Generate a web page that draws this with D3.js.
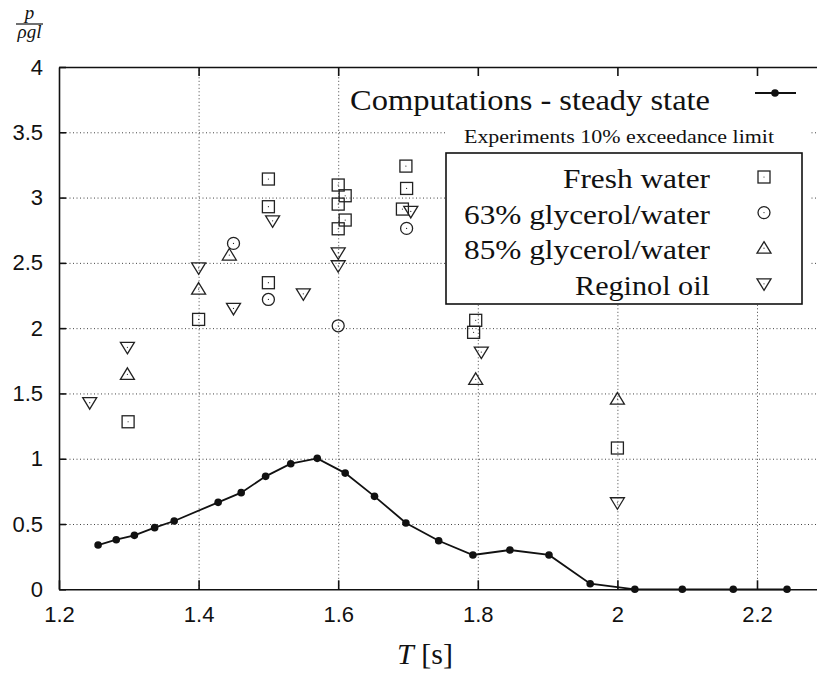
<!DOCTYPE html>
<html>
<head>
<meta charset="utf-8">
<script src="https://cdn.jsdelivr.net/npm/d3@7/dist/d3.min.js"></script>
<style>
    body { margin: 0; background: #ffffff; }
    svg { display: block; }
</style>
</head>
<body>
<svg id="chart" width="817" height="677"></svg>
<script>
// computed pressure, steady state
var computedT = [1.256, 1.282, 1.308, 1.337, 1.365, 1.428, 1.461, 1.496, 1.532, 1.570,
    1.610, 1.652, 1.697, 1.744, 1.793, 1.846, 1.902, 1.961, 2.025, 2.093, 2.166, 2.243];
var computedP = [0.339, 0.380, 0.413, 0.472, 0.523, 0.666, 0.740, 0.865, 0.962, 1.003,
    0.890, 0.712, 0.508, 0.372, 0.263, 0.301, 0.263, 0.043, 0, 0, 0, 0];

// experiments, 10% exceedance limit
var freshWaterT = [1.299, 1.400, 1.500, 1.500, 1.500, 1.600, 1.610, 1.600, 1.610, 1.600,
    1.697, 1.698, 1.692, 1.797, 1.794, 2.000];
var freshWaterP = [1.283, 2.067, 3.142, 2.930, 2.348, 3.096, 3.014, 2.950, 2.828, 2.761,
    3.241, 3.070, 2.912, 2.060, 1.968, 1.082];
var glycerol63T = [1.450, 1.500, 1.600, 1.698];
var glycerol63P = [2.649, 2.220, 2.018, 2.764];
var glycerol85T = [1.298, 1.400, 1.444, 1.797, 2.000];
var glycerol85P = [1.646, 2.299, 2.560, 1.608, 1.457];
var reginolT = [1.244, 1.298, 1.400, 1.450, 1.506, 1.550, 1.600, 1.600, 1.704, 1.805, 2.000];
var reginolP = [1.429, 1.853, 2.462, 2.151, 2.822, 2.263, 2.577, 2.478, 2.894, 1.817, 0.663];

var xTicks = [1.2, 1.4, 1.6, 1.8, 2.0, 2.2];
var yTicks = [0, 0.5, 1, 1.5, 2, 2.5, 3, 3.5, 4];
var seriesNames = ["Fresh water", "63% glycerol/water", "85% glycerol/water", "Reginol oil"];

var opts = {
    left: 59,
    top: 67,
    bottom: 589.3,
    right: 826.8,
    serif: "'Liberation Serif', 'DejaVu Serif', serif",
    sans: "'Liberation Sans', Arial, Helvetica, sans-serif"
};

var svg = d3.select('#chart');

var x = d3.scaleLinear().domain([1.2, 2.3]).range([opts.left, opts.right]);
var y = d3.scaleLinear().domain([0, 4]).range([opts.bottom, opts.top]);
var plotH = opts.bottom - opts.top;
var plotW = opts.right - opts.left;

function zip(xs, ys) {
    return xs.map(function(d, i) { return {t: d, p: ys[i]}; });
}

// marker shapes, gnuplot style
var symbols = {
    square: function(g) {
        g.append('rect').attr('x', -6).attr('y', -6).attr('width', 12).attr('height', 12);
    },
    circle: function(g) {
        g.append('circle').attr('r', 6);
    },
    up: function(g) {
        g.append('path').attr('d', 'M0,-6.5L7,5L-7,5Z');
    },
    down: function(g) {
        g.append('path').attr('d', 'M0,6.5L7,-5L-7,-5Z');
    }
};

function drawMarker(sel, kind) {
    sel.each(function() {
        var g = d3.select(this);
        symbols[kind](g);
        g.selectAll('rect, circle, path')
                .attr('fill', 'none')
                .attr('stroke', '#222')
                .attr('stroke-width', 1.3);
        g.append('circle').attr('r', 0.6).attr('fill', '#222');
    });
}

/** grid **/
var gridX = svg.append('g')
        .attr('class', 'grid-x')
        .attr('transform', 'translate(0,' + opts.bottom + ')')
        .call(d3.axisBottom(x).tickValues(xTicks.slice(1)).tickSize(-plotH).tickFormat(''));
var gridY = svg.append('g')
        .attr('class', 'grid-y')
        .attr('transform', 'translate(' + opts.left + ',0)')
        .call(d3.axisLeft(y).tickValues(yTicks.slice(1, -1)).tickSize(-plotW).tickFormat(''));
svg.selectAll('.grid-x .domain, .grid-y .domain').remove();
svg.selectAll('.grid-x line, .grid-y line')
        .attr('stroke', '#444')
        .attr('stroke-width', 1)
        .attr('stroke-dasharray', '1,2.5');

/** key background (covers grid) **/
svg.append('rect')
        .attr('x', 447).attr('y', opts.top + 1)
        .attr('width', 364).attr('height', 237)
        .attr('fill', '#ffffff');

/** axes **/
var axisBottom = svg.append('g')
        .attr('class', 'axis')
        .attr('transform', 'translate(0,' + opts.bottom + ')')
        .call(d3.axisBottom(x).tickValues(xTicks).tickSizeInner(-9).tickSizeOuter(0).tickPadding(17)
                .tickFormat(function(d) { return d3.format('~g')(d); }));
var axisLeft = svg.append('g')
        .attr('class', 'axis')
        .attr('transform', 'translate(' + opts.left + ',0)')
        .call(d3.axisLeft(y).tickValues(yTicks).tickSizeInner(-7).tickSizeOuter(0).tickPadding(16)
                .tickFormat(function(d) { return d3.format('~g')(d); }));
var axisTop = svg.append('g')
        .attr('class', 'axis')
        .attr('transform', 'translate(0,' + opts.top + ')')
        .call(d3.axisTop(x).tickValues(xTicks.slice(1)).tickSizeInner(-9).tickSizeOuter(0).tickFormat(''));
svg.selectAll('.axis .domain').attr('stroke', '#111').attr('stroke-width', 1.6);
svg.selectAll('.axis line').attr('stroke', '#111').attr('stroke-width', 1.6);
svg.selectAll('.axis text')
        .attr('font-family', opts.sans)
        .attr('font-size', '22px')
        .attr('fill', '#111');

/** key box **/
svg.append('rect')
        .attr('x', 446).attr('y', 153)
        .attr('width', 356).attr('height', 151)
        .attr('fill', 'none')
        .attr('stroke', '#111')
        .attr('stroke-width', 1.6);

/** computations line **/
var line = d3.line()
        .x(function(d) { return x(d.t); })
        .y(function(d) { return y(d.p); });
var computed = zip(computedT, computedP);
svg.append('path')
        .datum(computed)
        .attr('d', line)
        .attr('fill', 'none')
        .attr('stroke', '#111')
        .attr('stroke-width', 1.8);
svg.selectAll('.comp-dot').data(computed).enter()
        .append('circle')
        .attr('class', 'comp-dot')
        .attr('cx', function(d) { return x(d.t); })
        .attr('cy', function(d) { return y(d.p); })
        .attr('r', 3.8)
        .attr('fill', '#111');

/** experiments **/
var experiments = [
    {kind: 'square', data: zip(freshWaterT, freshWaterP)},
    {kind: 'circle', data: zip(glycerol63T, glycerol63P)},
    {kind: 'up', data: zip(glycerol85T, glycerol85P)},
    {kind: 'down', data: zip(reginolT, reginolP)}
];
experiments.forEach(function(s, k) {
    svg.selectAll('.pt-' + k).data(s.data).enter()
            .append('g')
            .attr('class', 'pt-' + k)
            .attr('transform', function(d) { return 'translate(' + x(d.t) + ',' + y(d.p) + ')'; })
            .call(drawMarker, s.kind);
});

/** key texts **/
function keyText(str, xx, yy, size, width) {
    var t = svg.append('text')
            .attr('x', xx).attr('y', yy)
            .attr('text-anchor', 'end')
            .attr('font-family', opts.serif)
            .attr('font-size', size + 'px')
            .attr('fill', '#111')
            .text(str);
    t.attr('textLength', width).attr('lengthAdjust', 'spacingAndGlyphs');
    return t;
}

keyText('Computations - steady state', 710, 110, 30, 360);
svg.append('line')
        .attr('x1', 755).attr('x2', 796)
        .attr('y1', 93).attr('y2', 93)
        .attr('stroke', '#111').attr('stroke-width', 1.8);
svg.append('circle')
        .attr('cx', 775).attr('cy', 93).attr('r', 3.8).attr('fill', '#111');

keyText('Experiments 10% exceedance limit', 774, 143, 18, 310);

var keyWidths = [147, 246, 246, 135];
seriesNames.forEach(function(name, k) {
    var base = 188 + k * 35.6;
    keyText(name, 710, base, 28, keyWidths[k]);
    svg.append('g')
            .attr('transform', 'translate(764,' + (base - 11) + ')')
            .call(drawMarker, experiments[k].kind);
});

/** axis titles **/
var yl = svg.append('g').attr('font-family', opts.serif).attr('font-style', 'italic').attr('fill', '#111');
yl.append('text').attr('x', 29.5).attr('y', 19).attr('text-anchor', 'middle').attr('font-size', '19px').text('p');
yl.append('line').attr('x1', 16).attr('x2', 43).attr('y1', 24).attr('y2', 24).attr('stroke', '#111').attr('stroke-width', 1.2);
yl.append('text').attr('x', 29.5).attr('y', 38).attr('text-anchor', 'middle').attr('font-size', '19px').text('ρgl');

var xl = svg.append('text')
        .attr('x', 425).attr('y', 664)
        .attr('text-anchor', 'middle')
        .attr('font-family', opts.serif)
        .attr('font-size', '30px')
        .attr('fill', '#111');
xl.append('tspan').attr('font-style', 'italic').text('T');
xl.append('tspan').text(' [s]');
</script>
</body>
</html>
